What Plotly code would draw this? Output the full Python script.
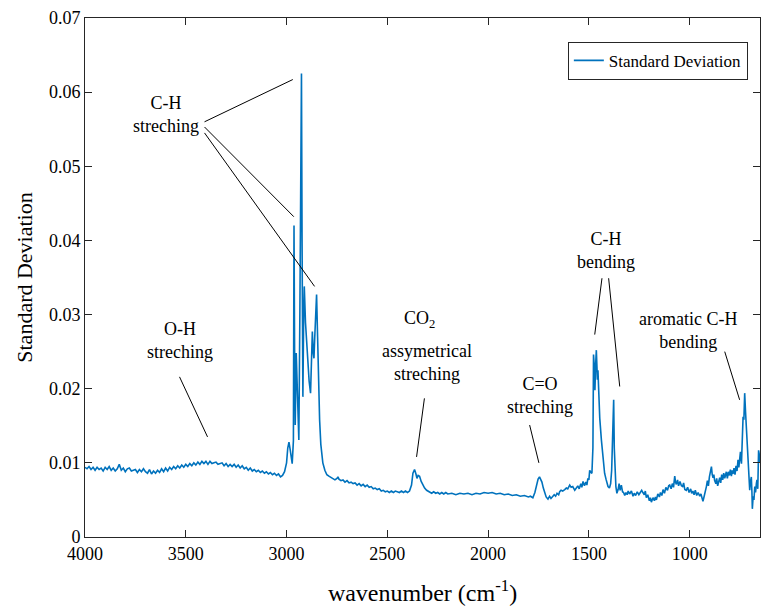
import plotly.graph_objects as go

# ---------------- data ----------------
wavenumber = [
    4000, 3990, 3980, 3970, 3960, 3950, 3940, 3930, 3920, 3910,
    3900, 3890, 3880, 3870, 3860, 3850, 3840, 3830, 3820, 3810,
    3800, 3790, 3780, 3770, 3760, 3750, 3740, 3730, 3720, 3710,
    3700, 3690, 3680, 3670, 3660, 3650, 3640, 3630, 3620, 3610,
    3600, 3590, 3580, 3570, 3560, 3550, 3540, 3530, 3520, 3510,
    3500, 3490, 3480, 3470, 3460, 3450, 3440, 3430, 3420, 3410,
    3400, 3390, 3380, 3370, 3360, 3350, 3340, 3330, 3320, 3310,
    3300, 3290, 3280, 3270, 3260, 3250, 3240, 3230, 3220, 3210,
    3200, 3190, 3180, 3170, 3160, 3150, 3140, 3130, 3120, 3110,
    3100, 3090, 3080, 3070, 3060, 3050, 3040, 3030, 3020, 3010,
    3000, 2994, 2988, 2982, 2976, 2972, 2966, 2963, 2960, 2957,
    2952, 2948, 2944, 2939, 2934, 2929, 2926, 2923, 2919, 2915,
    2912, 2906, 2900, 2894, 2888, 2881, 2876, 2872, 2868, 2864,
    2860, 2855, 2851, 2846, 2841, 2836, 2830, 2825, 2820, 2810,
    2800, 2790, 2780, 2770, 2760, 2750, 2745, 2740, 2730, 2720,
    2710, 2700, 2690, 2680, 2670, 2660, 2650, 2640, 2630, 2620,
    2610, 2600, 2590, 2580, 2570, 2560, 2550, 2540, 2530, 2520,
    2510, 2500, 2490, 2480, 2470, 2460, 2450, 2440, 2430, 2420,
    2410, 2400, 2390, 2380, 2373, 2365, 2358, 2353, 2347, 2340,
    2332, 2324, 2315, 2305, 2299, 2290, 2280, 2270, 2260, 2250,
    2240, 2230, 2220, 2210, 2200, 2180, 2160, 2140, 2120, 2100,
    2080, 2060, 2040, 2020, 2000, 1980, 1960, 1940, 1920, 1900,
    1880, 1860, 1840, 1820, 1800, 1790, 1778, 1768, 1761, 1752,
    1745, 1738, 1733, 1726, 1720, 1712, 1703, 1695, 1688, 1680,
    1672, 1665, 1658, 1650, 1645, 1638, 1630, 1620, 1612, 1605,
    1595, 1588, 1580, 1570, 1562, 1555, 1548, 1540, 1535, 1529,
    1522, 1515, 1510, 1505, 1500, 1496, 1490, 1485, 1480, 1477,
    1473, 1470, 1466, 1463, 1460, 1458, 1455, 1452, 1446, 1438,
    1430, 1422, 1415, 1405, 1398, 1392, 1387, 1385, 1380, 1377,
    1374, 1371, 1366, 1361, 1355, 1350, 1345, 1339, 1333, 1328,
    1322, 1316, 1310, 1305, 1298, 1289, 1281, 1275, 1268, 1260,
    1252, 1245, 1238, 1232, 1225, 1220, 1215, 1208, 1200, 1195,
    1190, 1182, 1175, 1170, 1165, 1158, 1150, 1145, 1138, 1132,
    1125, 1118, 1110, 1104, 1099, 1092, 1086, 1080, 1074, 1070,
    1066, 1060, 1055, 1048, 1041, 1035, 1030, 1024, 1017, 1010,
    1003, 995, 990, 984, 978, 972, 965, 958, 950, 944,
    938, 934, 928, 922, 917, 912, 907, 902, 897, 892,
    888, 884, 880, 876, 870, 866, 861, 856, 851, 846,
    841, 836, 831, 826, 822, 818, 813, 808, 803, 798,
    793, 789, 785, 780, 775, 770, 765, 760, 756, 752,
    748, 743, 738, 735, 731, 727, 723, 718, 714, 710,
    706, 702, 698, 694, 691, 689, 685, 681, 677, 673,
    669, 666, 662, 658, 654, 651,
]

std_dev = [
    .0094, .0092, .0095, .0091, .0094, .0090, .0094, .0091, .0093, .0089,
    .0094, .0091, .0095, .0090, .0093, .0089, .0092, .0098, .0090, .0093,
    .0088, .0092, .0093, .0089, .0090, .0091, .0087, .0091, .0088, .0092,
    .0088, .0086, .0091, .0085, .0089, .0086, .0090, .0087, .0092, .0088,
    .0093, .0089, .0094, .0091, .0095, .0092, .0096, .0093, .0097, .0094,
    .0098, .0095, .0099, .0096, .0100, .0097, .0101, .0098, .0102, .0099,
    .0102, .0098, .0102, .0099, .0100, .0101, .0098, .0099, .0100, .0096,
    .0099, .0095, .0098, .0095, .0098, .0094, .0097, .0093, .0096, .0092,
    .0094, .0090, .0093, .0089, .0091, .0088, .0090, .0087, .0089, .0086,
    .0088, .0085, .0087, .0084, .0086, .0083, .0085, .0081, .0083, .0088,
    .0100, .0120, .0128, .0118, .0105, .0099, .0130, .0420, .0250, .0151,
    .0248, .0216, .0180, .0131, .0300, .0500, .0625, .0400, .0189, .0300,
    .0338, .0289, .0260, .0235, .0210, .0194, .0240, .0277, .0250, .0241,
    .0270, .0310, .0327, .0270, .0200, .0158, .0125, .0110, .0100, .0090,
    .0084, .0082, .0080, .0078, .0077, .0079, .0081, .0078, .0076, .0077,
    .0074, .0076, .0073, .0074, .0072, .0073, .0070, .0072, .0069, .0071,
    .0068, .0070, .0067, .0068, .0065, .0066, .0064, .0065, .0062, .0063,
    .0061, .0062, .0060, .0062, .0060, .0062, .0061, .0060, .0062, .0060,
    .0062, .0060, .0062, .0070, .0086, .0091, .0085, .0079, .0083, .0082,
    .0075, .0070, .0066, .0063, .0062, .0061, .0059, .0061, .0059, .0060,
    .0058, .0060, .0058, .0060, .0058, .0059, .0057, .0059, .0058, .0059,
    .0057, .0059, .0058, .0060, .0059, .0060, .0058, .0059, .0057, .0058,
    .0056, .0057, .0055, .0056, .0054, .0055, .0053, .0060, .0068, .0078,
    .0081, .0076, .0074, .0066, .0059, .0054, .0051, .0055, .0052, .0054,
    .0057, .0055, .0059, .0057, .0061, .0063, .0062, .0064, .0066, .0065,
    .0070, .0067, .0068, .0063, .0066, .0069, .0065, .0072, .0067, .0075,
    .0069, .0074, .0070, .0079, .0077, .0090, .0087, .0086, .0120, .0246,
    .0230, .0198, .0235, .0252, .0230, .0212, .0225, .0194, .0160, .0131,
    .0105, .0086, .0078, .0068, .0066, .0072, .0090, .0104, .0150, .0185,
    .0120, .0086, .0068, .0059, .0064, .0072, .0063, .0070, .0061, .0060,
    .0056, .0060, .0057, .0062, .0058, .0062, .0055, .0059, .0056, .0061,
    .0057, .0060, .0063, .0060, .0057, .0062, .0053, .0057, .0049, .0053,
    .0047, .0053, .0049, .0054, .0050, .0058, .0054, .0060, .0056, .0064,
    .0059, .0067, .0063, .0069, .0070, .0065, .0072, .0067, .0082, .0074,
    .0071, .0077, .0069, .0075, .0069, .0068, .0073, .0064, .0063, .0067,
    .0060, .0065, .0059, .0062, .0057, .0063, .0056, .0060, .0055, .0058,
    .0051, .0048, .0055, .0061, .0068, .0076, .0069, .0081, .0088, .0095,
    .0084, .0080, .0084, .0076, .0072, .0079, .0069, .0077, .0080, .0073,
    .0084, .0077, .0086, .0079, .0087, .0088, .0079, .0088, .0083, .0091,
    .0082, .0090, .0085, .0093, .0084, .0096, .0089, .0104, .0094, .0104,
    .0115, .0099, .0130, .0162, .0158, .0194, .0170, .0144, .0120, .0099,
    .0080, .0063, .0075, .0081, .0060, .0038, .0055, .0050, .0068, .0060,
    .0072, .0077, .0065, .0117, .0110, .0100,
]

x_ticks = [1000, 1500, 2000, 2500, 3000, 3500, 4000]
x_tick_labels = ["1000", "1500", "2000", "2500", "3000", "3500", "4000"]
y_ticks = [0, 0.01, 0.02, 0.03, 0.04, 0.05, 0.06, 0.07]
y_tick_labels = ["0", "0.01", "0.02", "0.03", "0.04", "0.05", "0.06", "0.07"]

# annotation labels (text, wavenumber, value)
label_texts = ["C-H<br>streching", "O-H<br>streching",
               "CO<sub>2</sub>", "assymetrical<br>streching",
               "C=O<br>streching", "C-H<br>bending", "aromatic C-H<br>bending"]
label_x = [3596, 3531, 2340, 2305, 1745, 1417, 1010]
label_y = [0.0570, 0.02645, 0.02930, 0.02354, 0.01915, 0.0387, 0.0279]

# leader lines: (x0, y0, x1, y1)
leader_x0 = [3407, 3407, 3407, 3531, 2316, 1794, 1435, 1402, 826]
leader_y0 = [0.0560, 0.0553, 0.0545, 0.0216, 0.0187, 0.0151, 0.0349, 0.0349, 0.0250]
leader_x1 = [2969, 2964, 2861, 3392, 2355, 1748, 1471, 1347, 752]
leader_y1 = [0.0617, 0.0432, 0.0338, 0.0135, 0.0108, 0.0100, 0.0273, 0.0203, 0.0185]

# ---------------- figure ----------------
FONT = "'Liberation Serif', 'Times New Roman', Times, 'DejaVu Serif', serif"
AXC = "#262626"

fig = go.Figure()
fig.add_trace(go.Scatter(
    x=wavenumber, y=std_dev, mode="lines", name="Standard Deviation",
    line=dict(color="#0072BD", width=1.6),
))

for t, x, y in zip(label_texts, label_x, label_y):
    fig.add_annotation(x=x, y=y, xref="x", yref="y", text=t, showarrow=False,
                       font=dict(family=FONT, size=18, color="black"),
                       align="center")

for x0, y0, x1, y1 in zip(leader_x0, leader_y0, leader_x1, leader_y1):
    fig.add_shape(type="line", xref="x", yref="y", x0=x0, y0=y0, x1=x1, y1=y1,
                  line=dict(color="black", width=1))

fig.update_layout(
    width=762, height=607,
    margin=dict(l=85, r=2, t=18, b=70),
    plot_bgcolor="white", paper_bgcolor="white",
    font=dict(family=FONT, color="black"),
    showlegend=True,
    legend=dict(x=0.982, y=0.954, xanchor="right", yanchor="top",
                bordercolor=AXC, borderwidth=1, bgcolor="white",
                font=dict(family=FONT, size=17, color="black")),
)
fig.update_xaxes(
    range=[4000, 651], tickvals=x_ticks, ticktext=x_tick_labels,
    showline=True, linecolor=AXC, linewidth=1, mirror="ticks",
    ticks="inside", ticklen=7, tickcolor=AXC, showgrid=False, zeroline=False,
    tickfont=dict(family=FONT, size=18, color="black"),
    title=dict(text="wavenumber (cm<sup>-1</sup>)",
               font=dict(family=FONT, size=24, color="black"), standoff=21),
)
fig.update_yaxes(
    range=[0, 0.07], tickvals=y_ticks, ticktext=y_tick_labels,
    showline=True, linecolor=AXC, linewidth=1, mirror="ticks",
    ticks="inside", ticklen=7, tickcolor=AXC, showgrid=False, zeroline=False,
    tickfont=dict(family=FONT, size=18, color="black"),
    title=dict(text="Standard Deviation",
               font=dict(family=FONT, size=22, color="black"), standoff=10),
)

fig.write_html("out.html")
